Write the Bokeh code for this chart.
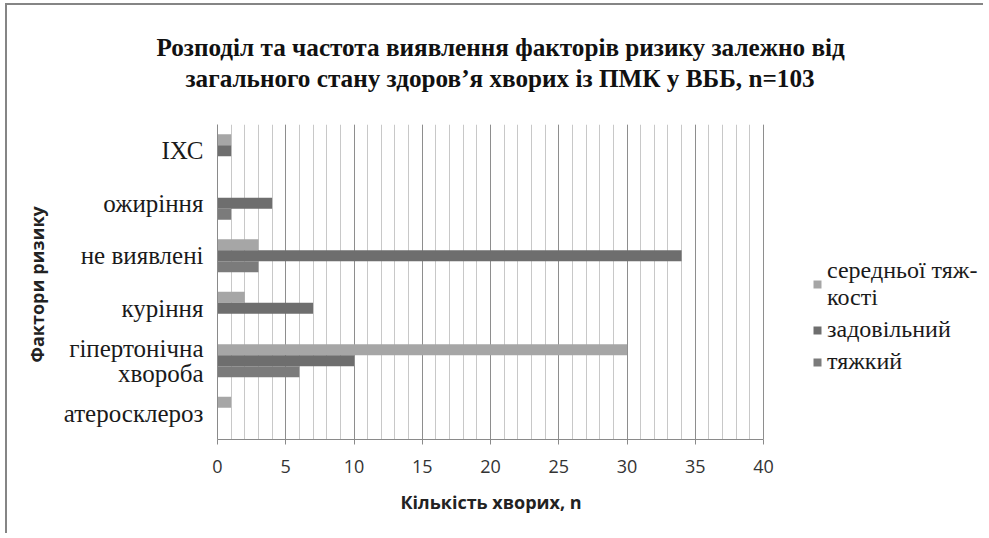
from bokeh.plotting import figure
from bokeh.models import (ColumnDataSource, FactorRange, Range1d, Legend, LegendItem,
                          Title, FixedTicker)
from bokeh.transform import dodge
from bokeh.embed import file_html
from bokeh.resources import INLINE

# ---- data (categories listed bottom -> top) ----
categories = ["атеросклероз", "гіпертонічна\nхвороба", "куріння", "не виявлені", "ожиріння", "ІХС"]
moderate = [1, 30, 2, 3, 0, 1]        # середньої тяжкості
satisfactory = [0, 10, 7, 34, 4, 1]   # задовільний
severe = [0, 6, 0, 3, 1, 0]           # тяжкий
series_names = ["середньої тяж-\nкості", "задовільний", "тяжкий"]
x_ticks = [0, 5, 10, 15, 20, 25, 30, 35, 40]
x_max = 40
title_line1 = "Розподіл та частота виявлення факторів ризику залежно від"
title_line2 = "загального стану здоров’я хворих із ПМК у ВББ, n=103"
x_label = "Кількість хворих, n"
y_label = "Фактори  ризику"

# layout (pixels)
W, H = 978, 530
LEFT, TOP, BOTTOM = 210, 119, 96
AXIS_PX = 546                      # pixel length of the 0..40 axis
frame_px = W - LEFT
x_end = x_max * frame_px / AXIS_PX  # frame extends right so the legend sits inside it

src = ColumnDataSource(dict(cat=categories, moderate=moderate,
                            satisfactory=satisfactory, severe=severe))

p = figure(y_range=FactorRange(*categories, range_padding=0),
           x_range=Range1d(0, x_end),
           width=W, height=H, output_backend="svg", toolbar_location=None,
           min_border_left=LEFT, min_border_right=0, min_border_top=TOP, min_border_bottom=BOTTOM)
p.styles = {"margin-left": "5px", "margin-top": "3px",
            "border-left": "2px solid #858585", "border-top": "2px solid #858585"}
p.outline_line_color = None
p.background_fill_color = "white"
p.border_fill_color = "white"

bh = 0.21
r1 = p.hbar(y=dodge("cat", bh, range=p.y_range), right="moderate", left=0, height=bh,
            source=src, fill_color="#a6a6a6", line_color=None)
r2 = p.hbar(y=dodge("cat", 0, range=p.y_range), right="satisfactory", left=0, height=bh,
            source=src, fill_color="#6e6e6e", line_color=None)
r3 = p.hbar(y=dodge("cat", -bh, range=p.y_range), right="severe", left=0, height=bh,
            source=src, fill_color="#7b7b7b", line_color=None)

# titles: spacer (closest to frame), line 2, line 1
spacer = Title(text=" ", text_font_size="1px", standoff=30)
t2 = Title(text=title_line2, align="left", offset=-32, text_font="Liberation Serif",
           text_font_size="25.2px", text_font_style="bold", text_color="#111111", standoff=0)
t1 = Title(text=title_line1, align="left", offset=-61, text_font="Liberation Serif",
           text_font_size="25.2px", text_font_style="bold", text_color="#111111", standoff=4)
p.add_layout(spacer, "above")
p.add_layout(t2, "above")
p.add_layout(t1, "above")

# x axis
xa = p.xaxis[0]
xa.bounds = (0, x_max)
xa.ticker = FixedTicker(ticks=x_ticks, minor_ticks=list(range(0, x_max + 1)))
xa.major_label_text_font = "Open Sans"
xa.major_label_text_font_size = "18px"
xa.major_label_text_color = "#333333"
xa.major_label_standoff = 15
xa.axis_line_color = "#8a8a8a"
xa.major_tick_line_color = "#8a8a8a"
xa.major_tick_out = 5
xa.major_tick_in = 0
xa.minor_tick_in = 0
xa.minor_tick_out = 0

# x axis title, placed under the 0..40 span
xt = Title(text=x_label, align="left", offset=183, vertical_align="top",
           text_font="Open Sans", text_font_size="18px", text_font_style="bold",
           text_color="#222222", standoff=28)
p.add_layout(xt, "below")

# y axis
ya = p.yaxis[0]
ya.axis_label = y_label
ya.axis_label_text_font = "Open Sans"
ya.axis_label_text_font_style = "bold"
ya.axis_label_text_font_size = "18px"
ya.axis_label_text_color = "#222222"
ya.axis_label_standoff = 12
ya.major_label_text_font = "Liberation Serif"
ya.major_label_text_font_size = "25px"
ya.major_label_text_color = "#1a1a1a"
ya.major_label_text_line_height = 0.93
ya.major_label_standoff = 14
ya.axis_line_color = "#8a8a8a"
ya.major_tick_out = 0
ya.major_tick_in = 0

# grid
p.ygrid.grid_line_color = None
p.xgrid.bounds = (0, x_max)
p.xgrid.grid_line_color = "#8e8e8e"
p.xgrid.minor_grid_line_color = "#c8c8c8"

# legend (inside the extended frame, right of the plot area)
leg = Legend(items=[LegendItem(label=series_names[0], renderers=[r1]),
                    LegendItem(label=series_names[1], renderers=[r2]),
                    LegendItem(label=series_names[2], renderers=[r3])],
             location=(595, 64), orientation="vertical")
leg.border_line_color = None
leg.background_fill_alpha = 0
leg.padding = 0
leg.margin = 0
leg.spacing = 5
leg.glyph_width = 10
leg.glyph_height = 10
leg.label_standoff = 5
leg.label_text_font = "'Liberation Serif', serif"
leg.label_text_font_style = "normal"
leg.label_text_font_size = "24px"
leg.label_text_color = "#1a1a1a"
leg.label_text_line_height = 0.85
leg.label_height = 20
p.add_layout(leg, "center")

open("out.html", "w").write(file_html(p, INLINE))
